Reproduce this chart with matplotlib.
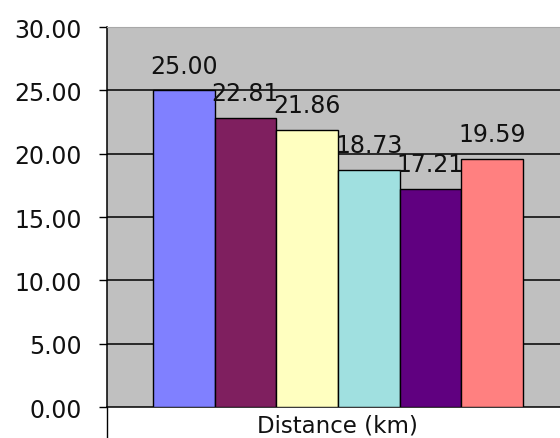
import matplotlib
matplotlib.use("Agg")
import matplotlib.pyplot as plt

# chart data
category = "Distance (km)"
values = [25.00, 22.81, 21.86, 18.73, 17.21, 19.59]
colors = ["#8080FF", "#7F1F5F", "#FFFFC0", "#A0E0E0", "#600080", "#FF8080"]
yticks = [0, 5, 10, 15, 20, 25, 30]

plt.rcParams['font.family'] = ['DejaVu Sans']

fig = plt.figure(figsize=(5.6, 4.39), dpi=100)
ax = fig.add_axes([0.1911, 0.0706, 0.8285, 0.8656])
ax.set_facecolor("#C0C0C0")

xs = list(range(len(values)))
ax.bar(xs, values, width=1.0, color=colors, edgecolor="black", linewidth=1.0, zorder=3)
for x, v in zip(xs, values):
    ax.text(x, v + 1.0, "%.2f" % v, ha="center", va="bottom", fontsize=17, color="#111111", zorder=4)

ax.set_ylim(0, 30)
ax.set_xlim(-1.245, 6.28)
ax.set_yticks(yticks)
ax.set_yticklabels(["%.2f" % t for t in yticks], fontsize=17, color="#111111")
ax.tick_params(axis="y", direction="out", length=6, width=1.0, pad=12)
for t in yticks[1:-1]:
    ax.axhline(t, color="black", linewidth=1.1, zorder=1)

# category axis: one category spanning the whole plot
ax.set_xticks([-1.245])
ax.set_xticklabels([""])
ax.tick_params(axis="x", direction="out", length=23, width=1.0)
ax.text(2.5, -0.048, category, transform=ax.get_xaxis_transform(),
        ha="center", va="center", fontsize=16.5, color="#111111")

ax.spines["top"].set_color("#A8A8A8")
ax.spines["right"].set_visible(False)
ax.spines["left"].set_linewidth(1.1)
ax.spines["bottom"].set_linewidth(1.1)

fig.savefig("out.png", dpi=100)
